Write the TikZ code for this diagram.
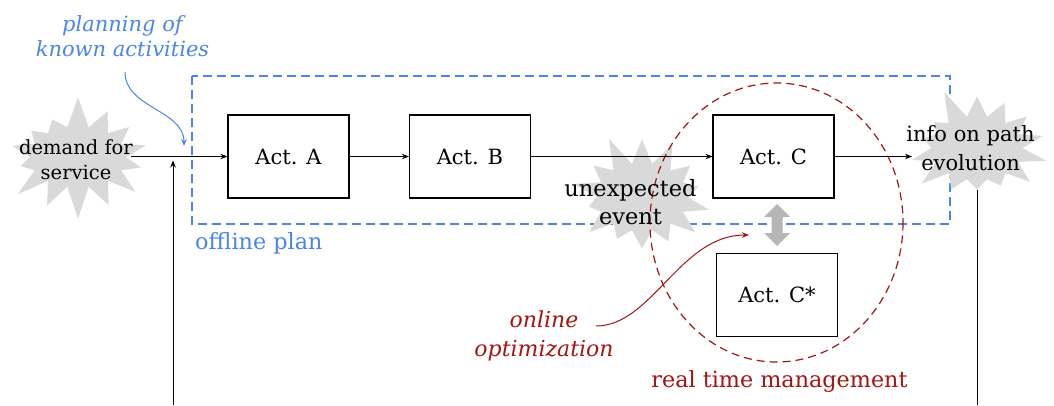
\documentclass[tikz,border=0pt]{standalone}
\usepackage{fontspec}
\setmainfont{DejaVu Serif}
\usetikzlibrary{shapes.symbols, arrows.meta}

\definecolor{planblue}{RGB}{74,134,232}
\definecolor{rtred}{RGB}{165,20,20}
\definecolor{burstgray}{RGB}{217,217,217}
\definecolor{arrowgray}{RGB}{182,182,182}

\tikzset{
  act/.style={draw, line width=1.2pt, fill=white, minimum width=121pt, minimum height=83pt,
              inner sep=0pt, font=\fontsize{21}{25}\selectfont},
  burst/.style={starburst, fill=burstgray, draw=none, starburst points=14,
                starburst point height=32pt, inner sep=0pt},
  flow/.style={line width=1pt, -{Stealth[length=7pt,width=5.5pt]}},
  lbl/.style={align=center, inner sep=0pt},
}

\begin{document}
\begin{tikzpicture}[x=1pt,y=-1pt]
\useasboundingbox (0,0) rectangle (1054,405);

% offline plan frame
\draw[planblue, line width=1.2pt, dash pattern=on 9pt off 5pt] (192,76) rectangle (950,224);
\node[lbl, anchor=base west, text=planblue, font=\fontsize{22.3}{26}\selectfont] (offline) at (195,249) {offline plan};

% event bursts
\node[burst, minimum width=160pt, minimum height=125pt, random starburst=7] (demandburst) at (78,157) {};
\node[burst, minimum width=155pt, minimum height=132pt, random starburst=11] (eventburst) at (642,197) {};
\node[burst, minimum width=155pt, minimum height=128pt, random starburst=5] (infoburst) at (977,148) {};

% real time management region
\draw[rtred, line width=1.2pt, dash pattern=on 8pt off 5pt] (776.5,222.5) ellipse (126.5 and 139.5);
\node[lbl, anchor=base, text=rtred, font=\fontsize{22.3}{26}\selectfont] (rtm) at (779.5,387) {real time management};

% activities
\node[act] (A) at (288.5,156.5) {Act. A};
\node[act] (B) at (470,156.5) {Act. B};
\node[act] (C) at (773.5,156.5) {Act. C};
\node[act] (Cs) at (777,295) {Act. C*};

% labels
\node[lbl, font=\fontsize{19.5}{25}\selectfont] (demand) at (76,160.1) {demand for\\service};
\node[lbl, font=\fontsize{22.5}{28}\selectfont] (event) at (630.5,202.5) {unexpected\\event};
\node[lbl, font=\fontsize{21}{29}\selectfont] (info) at (970.5,148.5) {info on path\\evolution};
\node[lbl, text=planblue, font=\itshape\fontsize{21}{25}\selectfont] (planning) at (122.5,36.5) {planning of\\known activities};
\node[lbl, text=rtred, font=\itshape\fontsize{22}{29}\selectfont] (online) at (544,335.8) {online\\optimization};

% connector end points
\coordinate (demandOut) at (131,156.5);
\coordinate (loopIn) at (173,405);
\coordinate (loopTip) at (173,160.5);
\coordinate (infoIn) at (912,156.5);
\coordinate (feedTop) at (977,190);
\coordinate (feedBottom) at (977,405);
\coordinate (planFrom) at (125,72);
\coordinate (planTo) at (184,146);
\coordinate (onlineFrom) at (596,326);
\coordinate (onlineTo) at (749,235);

% flow
\draw[flow] (demandOut) -- (A.west);
\draw[flow] (loopIn) -- (loopTip);
\draw[flow] (A.east) -- (B.west);
\draw[flow] (B.east) -- (C.west);
\draw[flow] (C.east) -- (infoIn);
\draw[line width=1pt] (feedTop) -- (feedBottom);

% annotations
\draw[planblue, line width=1pt, -{Stealth[length=7pt,width=5.5pt]}]
  (planFrom) .. controls (125,108) and (184,110) .. (planTo);
\draw[rtred, line width=1pt, -{Stealth[length=7pt,width=5.5pt]}]
  (onlineFrom) .. controls (652,326) and (680,235) .. (onlineTo);

% swap between C and C*
\fill[arrowgray] (777,204) -- (790,217) -- (782.5,217) -- (782.5,233) -- (790,233)
  -- (777,246) -- (764,233) -- (771.5,233) -- (771.5,217) -- (764,217) -- cycle;
\end{tikzpicture}
\end{document}
